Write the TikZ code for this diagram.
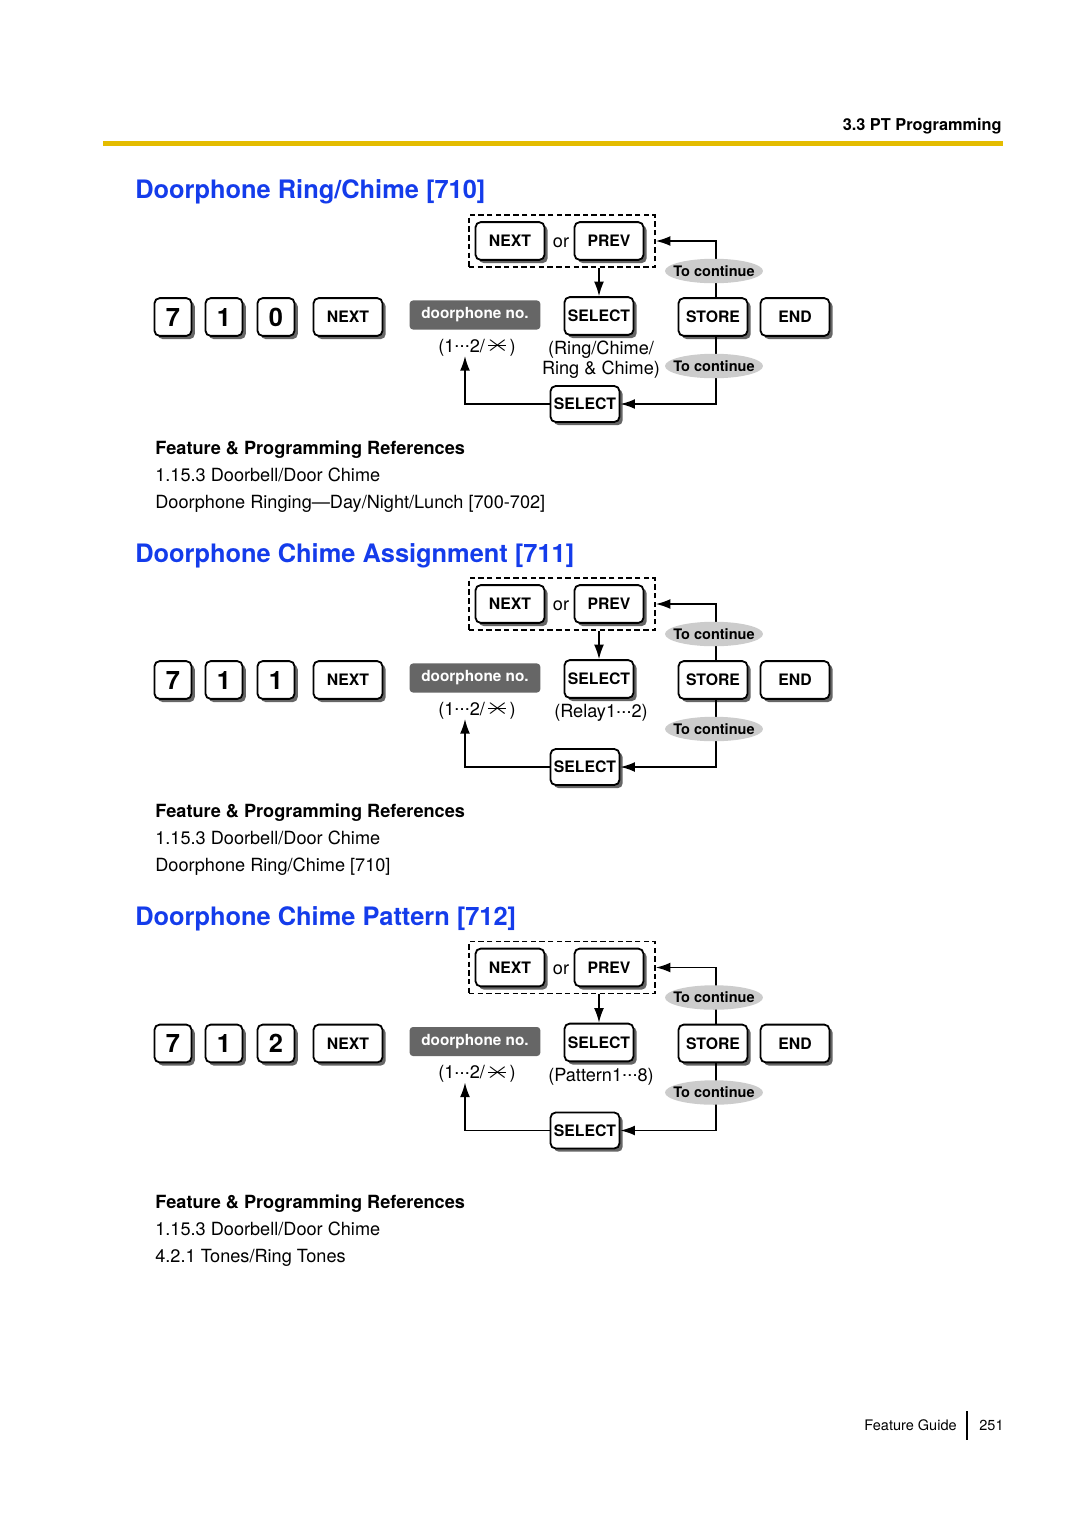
\documentclass[tikz,border=0pt]{standalone}
\usepackage{fontspec}
\setmainfont{TeX Gyre Heros}
\usepackage{graphicx}
\usepackage{tikz}
\usetikzlibrary{arrows.meta,shapes.geometric,shadows}
\definecolor{titleblue}{RGB}{20,60,235}
\definecolor{ruleyellow}{RGB}{228,188,0}
\newcommand{\starsym}{\ooalign{\hfil\raisebox{0.02em}{\scalebox{1.75}[1.3]{$\times$}}\hfil\cr\hfil\rule[0.33em]{1em}{0.05em}\hfil}}
\newcommand{\middots}{\raisebox{0.25em}{.\kern0.01em.\kern0.01em.}}
\tikzset{
	key/.style={draw,line width=1pt,rounded corners=2.8pt,fill=white,minimum width=38pt,minimum height=20.8pt,inner sep=0pt,
		font=\bfseries\fontsize{8.7}{10}\selectfont,drop shadow={shadow xshift=1.8pt,shadow yshift=-1.8pt,fill=black!60,opacity=1}},
	digit/.style={minimum width=20.4pt,font=\bfseries\fontsize{14}{16}\selectfont},
	dashbox/.style={draw,line width=0.9pt,dash pattern=on 3pt off 1.8pt,minimum width=102.5pt,minimum height=28.7pt,inner sep=0pt},
	dpbox/.style={fill=black!60,text=white,rounded corners=1.8pt,minimum width=72pt,minimum height=16pt,inner sep=0pt,font=\bfseries\fontsize{8.45}{10}\selectfont},
	cont/.style={ellipse,fill=black!20,minimum width=54pt,minimum height=13.5pt,inner xsep=-3.6pt,inner ysep=0pt,font=\bfseries\fontsize{8}{9}\selectfont},
	note/.style={inner sep=0pt,font=\fontsize{10}{11}\selectfont},
	flow/.style={line width=0.85pt,-{Latex[length=8pt,width=5.4pt]}},
	title/.style={anchor=base west,inner sep=0pt,text=titleblue,font=\bfseries\fontsize{14}{16}\selectfont},
	ref/.style={anchor=base west,inner sep=0pt,font=\fontsize{10}{12}\selectfont},
}
% one programming block: y offset, id, last digit, selection text
\newcommand{\doorblock}[4]{%
	\begin{scope}[shift={(0,#1)}]
		\node[dashbox] (db#2) at (562,241) {};
		\node[key] (nx#2) at (510,241) {NEXT};\node[note] (or#2) at (561,243) {or};\node[key] (pv#2) at (609,241) {PREV};
		\node[key,digit] (ka#2) at (173,317) {7};\node[key,digit] (kb#2) at (224,317) {1};\node[key,digit] (kc#2) at (276,317) {#3};
		\node[key] (kn#2) at (348,317) {NEXT};
		\node[dpbox] (dp#2) at (475,315) {doorphone no.};
		\node[note] (rg#2) at (477,347) {(1\middots2/\starsym)};
		\node[key] (sl#2) at (599,316) {SELECT};
		\node[note,align=center,anchor=north] (tx#2) at (601,341) {#4};
		\node[key] (st#2) at (713,317) {STORE};\node[key] (en#2) at (795,317) {END};
		\node[key,minimum height=19.8pt] (sb#2) at (585,404) {SELECT};
		\coordinate (up#2) at (465,356);
		\draw[flow] ([xshift=1.6pt]st#2.north) |- (db#2.east);
		\draw[flow] (db#2.south -| sl#2.north) -- (sl#2.north);
		\draw[flow] ([xshift=1.6pt]st#2.south) |- (sb#2.east);
		\draw[flow] (sb#2.west) -| (up#2);
		\node[cont] (ca#2) at (714,271) {To continue};\node[cont] (cb#2) at (714,366) {To continue};
	\end{scope}}

\begin{document}
\begin{tikzpicture}[x=0.5512pt,y=-0.5512pt] % 1 unit = 1 pixel of the page
	\useasboundingbox[fill=white] (0,0) rectangle (1080,1528);
	\node[anchor=base east,inner sep=0pt,font=\bfseries\fontsize{9}{11}\selectfont] (hd) at (1002,130) {3.3 PT Programming};
	\draw[ruleyellow,line width=2.8pt] (103,143.5) -- (1003,143.5);
	
	\node[title] (T1) at (135,198) {Doorphone Ring/Chime [710]};
	\doorblock{0}{A}{0}{(Ring/Chime/\\Ring \& Chime)}
	\node[ref,font=\bfseries\fontsize{10}{12}\selectfont] (R11) at (155,454) {Feature \& Programming References};
	\node[ref] (R12) at (155,481) {1.15.3 Doorbell/Door Chime};
	\node[ref] (R13) at (155,508) {Doorphone Ringing—Day/Night/Lunch [700-702]};
	
	\node[title] (T2) at (135,562) {Doorphone Chime Assignment [711]};
	\doorblock{363}{B}{1}{(Relay1\middots2)}
	\node[ref,font=\bfseries\fontsize{10}{12}\selectfont] (R21) at (155,817) {Feature \& Programming References};
	\node[ref] (R22) at (155,844) {1.15.3 Doorbell/Door Chime};
	\node[ref] (R23) at (155,871) {Doorphone Ring/Chime [710]};
	
	\node[title] (T3) at (135,925) {Doorphone Chime Pattern [712]};
	\doorblock{726.5}{C}{2}{(Pattern1\middots8)}
	\node[ref,font=\bfseries\fontsize{10}{12}\selectfont] (R31) at (155,1208) {Feature \& Programming References};
	\node[ref] (R32) at (155,1235) {1.15.3 Doorbell/Door Chime};
	\node[ref] (R33) at (155,1262) {4.2.1 Tones/Ring Tones};
	
	\node[anchor=base east,inner sep=0pt,font=\fontsize{8}{10}\selectfont] (fg) at (957,1430) {Feature Guide};
	\node[anchor=base west,inner sep=0pt,font=\fontsize{8}{10}\selectfont] (pg) at (979,1430) {251};
	\draw[line width=0.6pt] (967,1411) -- (967,1440);
\end{tikzpicture}
\end{document}
